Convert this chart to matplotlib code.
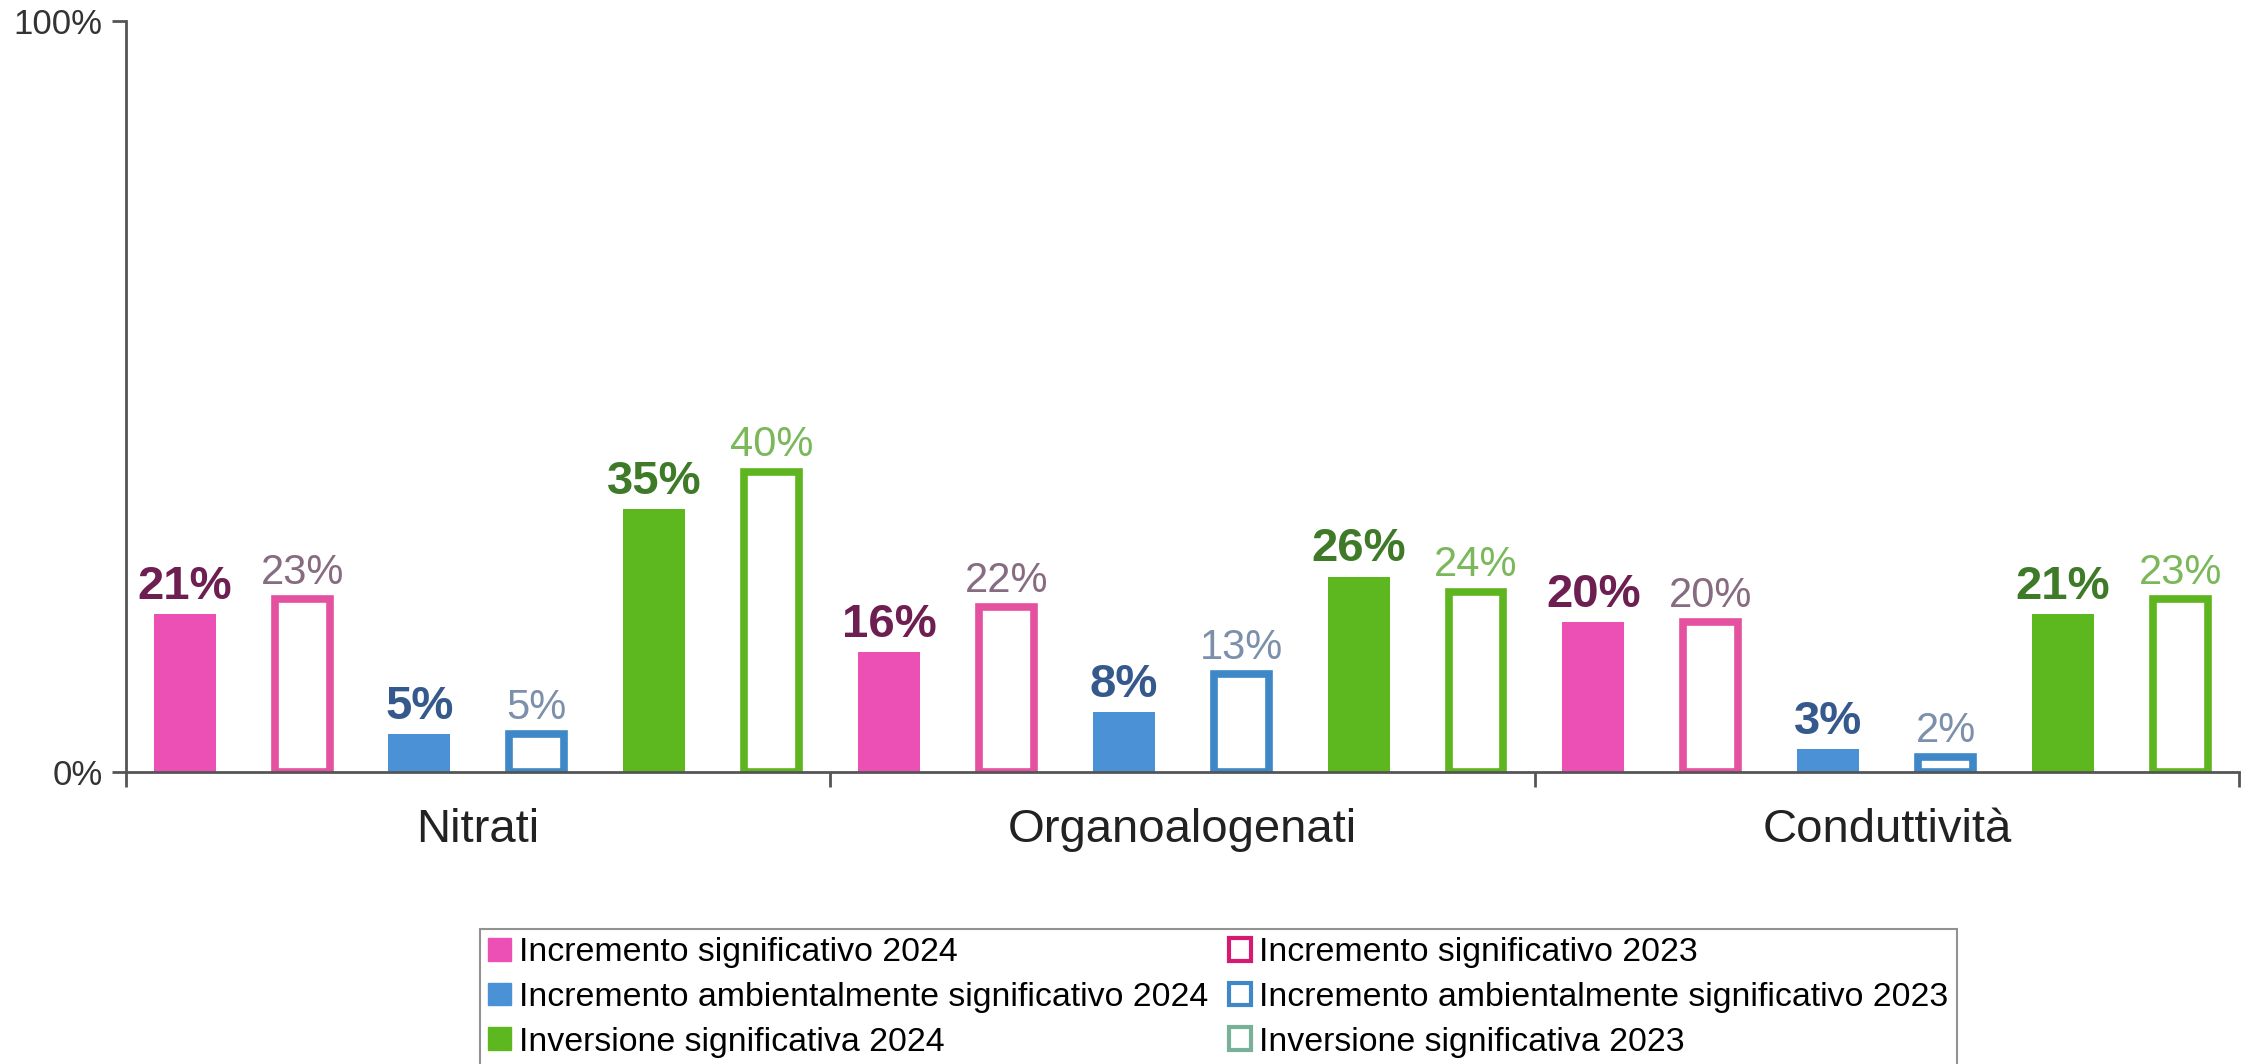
import numpy as np
import matplotlib
matplotlib.use("Agg")
import matplotlib.pyplot as plt
from matplotlib.patches import Patch

plt.rcParams['font.family'] = ['Liberation Sans', 'DejaVu Sans']

categories = ['Nitrati', 'Organoalogenati', 'Conduttività']
inc_2024 = [21, 16, 20]
inc_2023 = [23, 22, 20]
amb_2024 = [5, 8, 3]
amb_2023 = [5, 13, 2]
inv_2024 = [35, 26, 21]
inv_2023 = [40, 24, 23]

names = ['Incremento significativo 2024', 'Incremento significativo 2023',
         'Incremento ambientalmente significativo 2024',
         'Incremento ambientalmente significativo 2023',
         'Inversione significativa 2024', 'Inversione significativa 2023']

pink, blue, green = '#ec50b4', '#4a91d6', '#5db71f'
# (values, colour, filled, label colour)
series = [
    (inc_2024, pink, True, '#6e1f52'),
    (inc_2023, '#e4519f', False, '#876b80'),
    (amb_2024, blue, True, '#35598c'),
    (amb_2023, '#3f88c8', False, '#7d90ab'),
    (inv_2024, green, True, '#3e7a27'),
    (inv_2023, '#5fb520', False, '#7bb85a'),
]

fig = plt.figure(figsize=(22.48, 10.64), dpi=100)
ax = fig.add_axes([126/2248, 1 - 772/1064, (2239 - 126)/2248, (772 - 21)/1064])

x = np.arange(len(categories))
for k, (vals, col, filled, lcol) in enumerate(series):
    pos = x + (k - 2.5) / 6
    v = np.array(vals) / 100
    if filled:
        ax.bar(pos, v, width=0.088, color=col, zorder=2)
    else:
        ax.bar(pos, v, width=0.078, facecolor='white', edgecolor=col,
               linewidth=5.5, zorder=2)
    for p, val in zip(pos, vals):
        ax.annotate(f'{val}%', (p, val / 100), xytext=(0, 11),
                    textcoords='offset points', ha='center', va='baseline',
                    fontsize=34 if filled else 30,
                    fontweight='bold' if filled else 'normal', color=lcol)

ax.set_xlim(-0.5, 2.5)
ax.set_ylim(0, 1)
ax.set_yticks([0, 1])
ax.set_yticklabels(['0%', '100%'], fontsize=25, color='#333333')
ax.tick_params(axis='y', length=10, width=2, color='#555555', pad=7)

ax.set_xticks([-0.5, 0.5, 1.5, 2.5])
ax.set_xticklabels([])
ax.tick_params(axis='x', which='major', length=11, width=2, color='#555555')
ax.set_xticks(x, minor=True)
ax.set_xticklabels(categories, minor=True, fontsize=34, color='#222222')
ax.tick_params(axis='x', which='minor', length=0, pad=26)

for s in ['top', 'right']:
    ax.spines[s].set_visible(False)
for s in ['left', 'bottom']:
    ax.spines[s].set_color('#555555')
    ax.spines[s].set_linewidth(2)
ax.spines['left'].set_zorder(3)

handles = [
    Patch(facecolor=pink, edgecolor=pink),
    Patch(facecolor='white', edgecolor='#d41a72', linewidth=3),
    Patch(facecolor=blue, edgecolor=blue),
    Patch(facecolor='white', edgecolor='#3f88c8', linewidth=3),
    Patch(facecolor=green, edgecolor=green),
    Patch(facecolor='white', edgecolor='#78b09a', linewidth=3),
]
# column-wise order for a 2-column legend
order = [0, 2, 4, 1, 3, 5]
leg = fig.legend([handles[i] for i in order], [names[i] for i in order],
                 loc='upper left', bbox_to_anchor=(480/2248, 1 - 929/1064),
                 ncol=2, fontsize=24.4, frameon=True, fancybox=False,
                 edgecolor='#777777', borderpad=0.25, labelspacing=0.4,
                 handlelength=0.65, handleheight=0.65, handletextpad=0.25,
                 columnspacing=0.6, borderaxespad=0)
leg.get_frame().set_linewidth(1.5)

fig.savefig('out.png', dpi=100)
